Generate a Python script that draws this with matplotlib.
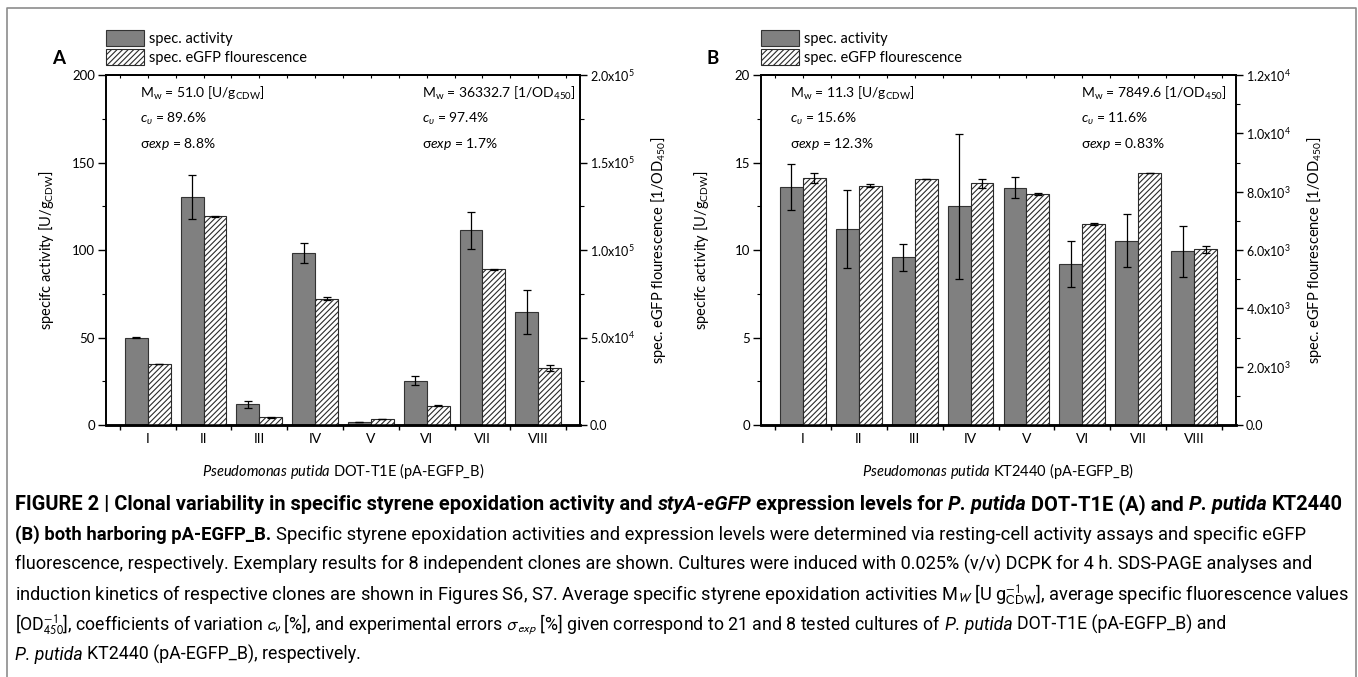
import numpy as np
import matplotlib
matplotlib.use('Agg')
import matplotlib.pyplot as plt
from matplotlib.ticker import MultipleLocator, FuncFormatter
from matplotlib.lines import Line2D

plt.rcParams['font.family'] = ['Lato', 'DejaVu Sans']
plt.rcParams['mathtext.fontset'] = 'custom'
plt.rcParams['mathtext.rm'] = 'Lato'
plt.rcParams['mathtext.it'] = 'Lato:italic'
plt.rcParams['mathtext.bf'] = 'Lato:bold'
plt.rcParams['hatch.linewidth'] = 0.8

# clones
clones = ['I', 'II', 'III', 'IV', 'V', 'VI', 'VII', 'VIII']

# P. putida DOT-T1E (pA-EGFP_B)
dot_act = [50.0, 130.3, 11.8, 98.1, 1.5, 25.2, 111.4, 64.8]
dot_act_err = [0.3, 12.7, 2.2, 5.7, 0.0, 2.6, 10.6, 12.6]
dot_fl = [34700, 119300, 4400, 72100, 3400, 11100, 89100, 32400]
dot_fl_err = [100, 300, 150, 950, 250, 200, 250, 1700]

# P. putida KT2440 (pA-EGFP_B)
kt_act = [13.6, 11.2, 9.58, 12.5, 13.57, 9.2, 10.53, 9.92]
kt_act_err = [1.3, 2.25, 0.76, 4.14, 0.6, 1.29, 1.5, 1.48]
kt_fl = [8470, 8210, 8440, 8290, 7920, 6890, 8630, 6020]
kt_fl_err = [160, 60, 10, 150, 30, 30, 0, 115]

W, H = 1358, 677
fig = plt.figure(figsize=(W / 100, H / 100), dpi=100)


def sci(v, pos):
    if v < 1:
        return '0.0' if abs(v) < 1 else ''
    e = int(np.floor(np.log10(v) + 1e-9))
    return r'%.1fx10$^{%d}$' % (v / 10 ** e, e)


def panel(left_px, width_px, act, act_err, fl, fl_err, ymax, ystep, fmax, fstep,
          letter, strain, notes_l, notes_r, xl, xr):
    ax = fig.add_axes([left_px / W, 1 - 425 / H, width_px / W, 350 / H])
    x = np.arange(1, len(clones) + 1)
    w = 0.41
    b1 = ax.bar(x - w / 2, act, w, color='#808080', edgecolor='#333333',
                linewidth=0.8, zorder=2)
    ax.errorbar(x - w / 2, act, yerr=act_err, fmt='none', ecolor='black',
                elinewidth=0.9, capsize=2.8, capthick=0.9, zorder=3)
    ax2 = ax.twinx()
    b2 = ax2.bar(x + w / 2, fl, w, color='white', edgecolor='#2a2a2a',
                 hatch='//////', linewidth=0.8, zorder=2)
    ax2.errorbar(x + w / 2, fl, yerr=fl_err, fmt='none', ecolor='black',
                 elinewidth=0.9, capsize=2.8, capthick=0.9, zorder=3)

    ax.set_xlim(0.25, 8.75)
    ax.set_ylim(0, ymax)
    ax2.set_ylim(0, fmax)

    ax.set_xticks(np.arange(0.5, 9, 1))
    ax.set_xticks(x, minor=True)
    ax.set_xticklabels(clones, minor=True)
    ax.tick_params(axis='x', which='major', direction='out', length=3.6,
                   width=1, labelbottom=False, top=False)
    ax.tick_params(axis='x', which='minor', length=0, pad=6, labelsize=10)
    sec = ax.secondary_xaxis('top')
    sec.set_xticks(np.arange(0.5, 9, 0.5))
    sec.tick_params(direction='in', length=2.5, width=0.8, labeltop=False)
    sec.spines['top'].set_linewidth(1.2)

    ax.yaxis.set_major_locator(MultipleLocator(ystep))
    ax.yaxis.set_minor_locator(MultipleLocator(ystep / 2))
    ax.tick_params(axis='y', which='major', direction='out', length=6,
                   width=1, labelsize=9.5, pad=2)
    ax.tick_params(axis='y', which='minor', direction='out', length=3, width=0.8)
    ax2.yaxis.set_major_locator(MultipleLocator(fstep))
    ax2.yaxis.set_minor_locator(MultipleLocator(fstep / 2))
    ax2.yaxis.set_major_formatter(FuncFormatter(sci))
    ax2.tick_params(axis='y', which='major', direction='out', length=5,
                    width=1, labelsize=9, pad=2)
    ax2.tick_params(axis='y', which='minor', direction='out', length=3, width=0.8)

    for a in (ax, ax2):
        for s in a.spines.values():
            s.set_linewidth(1.2)
        a.spines['bottom'].set_linewidth(1.8)

    ax.set_ylabel(r'specifc activity [U/g$_{\mathrm{CDW}}$]', fontsize=10.5)
    ax.yaxis.set_label_coords(-50 / width_px, 0.5)
    ax2.set_ylabel(r'spec. eGFP flourescence [1/OD$_{450}$]', fontsize=10.5)
    ax2.yaxis.set_label_coords(1 + 69 / width_px, 0.5)
    ax.set_xlabel(r'$\mathit{Pseudomonas\ putida}$ ' + strain, fontsize=10.5)
    ax.xaxis.set_label_coords(0.5, -36 / 350)

    for i, (tl, tr) in enumerate(zip(notes_l, notes_r)):
        yy = (425 - (98 + 25 * i)) / 350
        ax.text(xl, yy, tl, transform=ax.transAxes, fontsize=10, va='baseline')
        ax.text(xr, yy, tr, transform=ax.transAxes, fontsize=10, va='baseline')

    ax.legend([b1, b2], ['spec. activity', 'spec. eGFP flourescence'],
              loc='lower left', bbox_to_anchor=(0, 1 + 10 / 350), frameon=False,
              borderpad=0, borderaxespad=0, handlelength=2.6, handleheight=1.25,
              handletextpad=0.35, labelspacing=0.25, fontsize=10.5)
    fig.text((left_px - 54) / W, 1 - 58.5 / H, letter, fontsize=13.5,
             weight='bold', va='center', ha='left')


panel(106, 474, dot_act, dot_act_err, dot_fl, dot_fl_err, 200, 50, 2.0e5, 5.0e4,
      'A', 'DOT-T1E (pA-EGFP_B)',
      [r'M$_{\mathrm{w}}$ = 51.0 [U/g$_{\mathrm{CDW}}$]', r'$c_{\upsilon}$ = 89.6%',
       r'σ$\mathit{exp}$ = 8.8%'],
      [r'M$_{\mathrm{w}}$ = 36332.7 [1/OD$_{450}$]', r'$c_{\upsilon}$ = 97.4%',
       r'σ$\mathit{exp}$ = 1.7%'], 0.072, 0.667)
panel(761, 475, kt_act, kt_act_err, kt_fl, kt_fl_err, 20, 5, 1.2e4, 2.0e3,
      'B', 'KT2440 (pA-EGFP_B)',
      [r'M$_{\mathrm{w}}$ = 11.3 [U/g$_{\mathrm{CDW}}$]', r'$c_{\upsilon}$ = 15.6%',
       r'σ$\mathit{exp}$ = 12.3%'],
      [r'M$_{\mathrm{w}}$ = 7849.6 [1/OD$_{450}$]', r'$c_{\upsilon}$ = 11.6%',
       r'σ$\mathit{exp}$ = 0.83%'], 0.061, 0.674)

# outer frame
fig.add_artist(Line2D([7 / W, 7 / W, 1356 / W, 1356 / W], [0, 1 - 8 / H, 1 - 8 / H, 0],
                      transform=fig.transFigure, color='#8c8c8c', lw=1.2))

# caption
B, N = 'bold', 'normal'
cap = [
    [('FIGURE 2 | Clonal variability in specific styrene epoxidation activity and ', B, N),
     ('styA-eGFP', B, 'italic'), (' expression levels for ', B, N), ('P. putida', B, 'italic'),
     (' DOT-T1E (A) and ', B, N), ('P. putida', B, 'italic'), (' KT2440', B, N)],
    [('(B) both harboring pA-EGFP_B.', B, N),
     (' Specific styrene epoxidation activities and expression levels were determined via '
      'resting-cell activity assays and specific eGFP', N, N)],
    [('fluorescence, respectively. Exemplary results for 8 independent clones are shown. '
      'Cultures were induced with 0.025% (v/v) DCPK for 4 h. SDS-PAGE analyses and', N, N)],
    [('induction kinetics of respective clones are shown in Figures S6, S7. Average specific '
      'styrene epoxidation activities M$_{W}$ [U g$^{-1}_{\\mathrm{CDW}}$], average specific '
      'fluorescence values', N, N)],
    [('[OD$^{-1}_{450}$], coefficients of variation $c_{\\nu}$ [%], and experimental errors '
      '$\\sigma_{exp}$ [%] given correspond to 21 and 8 tested cultures of ', N, N),
     ('P. putida', N, 'italic'), (' DOT-T1E (pA-EGFP_B) and', N, N)],
    [('P. putida', N, 'italic'), (' KT2440 (pA-EGFP_B), respectively.', N, N)],
]
cap_ends = [1340, 1300, 1305, 1348, 1225, None]
cap_family = ['Roboto', 'DejaVu Sans']
renderer = fig.canvas.get_renderer()
x0 = 15


def space_w(size):
    t1 = fig.text(0, 0, 'n n', fontsize=size, family=cap_family)
    t2 = fig.text(0, 0, 'nn', fontsize=size, family=cap_family)
    w = t1.get_window_extent(renderer).width - t2.get_window_extent(renderer).width
    t1.remove()
    t2.remove()
    return w


def put_line(y_px, segs, size):
    arts = []
    sp = space_w(size)
    x = x0
    for txt, wt, st in segs:
        core = txt.strip(' ')
        x += (len(txt) - len(txt.lstrip(' '))) * sp
        t = fig.text(x / W, 1 - y_px / H, core, fontsize=size, weight=wt, style=st,
                     family=cap_family, math_fontfamily='stixsans',
                     ha='left', va='baseline')
        x = t.get_window_extent(renderer).x1 + (len(txt) - len(txt.rstrip(' '))) * sp
        arts.append(t)
    return arts, x


size = 11
for i, segs in enumerate(cap):
    y = 510 + 30 * i
    if cap_ends[i] is not None:
        arts, xe = put_line(y, segs, 12)
        size = 12 * (cap_ends[i] - x0) / (xe - x0)
        for a in arts:
            a.remove()
    put_line(y, segs, size)

fig.savefig('out.png', dpi=100)
